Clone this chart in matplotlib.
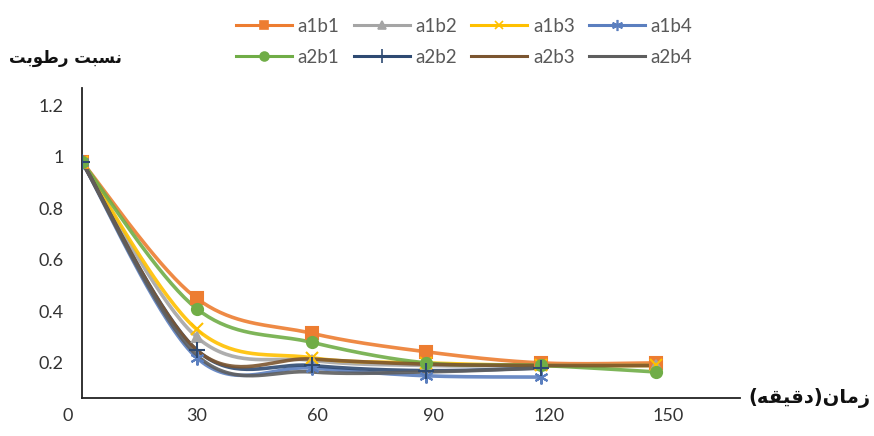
import numpy as np
import matplotlib
matplotlib.use("Agg")
import matplotlib.pyplot as plt
from matplotlib.transforms import ScaledTranslation

# ---------------- data ----------------
time_min = [0, 30, 60, 90, 120, 150]
series_names = ["a1b1", "a1b2", "a1b3", "a1b4", "a2b1", "a2b2", "a2b3", "a2b4"]
a1b1 = [0.98, 0.45, 0.315, 0.243, 0.20, 0.20]
a1b2 = [0.98, 0.30, 0.21, 0.19, 0.19, 0.19]
a1b3 = [0.98, 0.33, 0.22, 0.20, 0.19, 0.19]
a1b4 = [0.98, 0.22, 0.18, 0.15, 0.145]
a2b1 = [0.98, 0.41, 0.28, 0.20, 0.19, 0.165]
a2b2 = [0.98, 0.25, 0.19, 0.17, 0.18]
a2b3 = [0.98, 0.25, 0.215, 0.195, 0.19, 0.19]
a2b4 = [0.98, 0.23, 0.165, 0.165, 0.18]
x_tick_labels = ["0", "30", "60", "90", "120", "150"]
y_ticks = [0.2, 0.4, 0.6, 0.8, 1.0, 1.2]
y_tick_labels = ["0.2", "0.4", "0.6", "0.8", "1", "1.2"]

# Persian titles (Arabic presentation forms, in visual order)
y_title = "\uFE96\uFE91\uFEEE\uFEC3\uFEAD \uFE96\uFE92\uFEB4\uFEE7"          # نسبت رطوبت
x_title = "(\uFEEA\uFED8\uFEF4\uFED7\uFEA9)\uFEE5\uFE8E\uFEE3\uFEAF"        # زمان(دقیقه)

# ---------------- style ----------------
styles = {
    "a1b1": dict(color="#ED7D31", marker="s", ms=8),
    "a1b2": dict(color="#A5A5A5", marker="^", ms=7),
    "a1b3": dict(color="#FFC000", marker="x", ms=8),
    "a1b4": dict(color="#5B7FBF", marker=(6, 2, 0), ms=10),
    "a2b1": dict(color="#70AD47", marker="o", ms=8),
    "a2b2": dict(color="#2E4A72", marker="+", ms=12),
    "a2b3": dict(color="#7B5530", marker="None", ms=0),
    "a2b4": dict(color="#5E5E5E", marker="None", ms=0),
}
tick_label_shift_px = [-14, 0, 6, 7, 8, 12]   # label placement tweak (layout only)


def smooth(xs, ys, n=40):
    """Excel-like smoothed line (Catmull-Rom Bezier through the points)."""
    P = np.column_stack([xs, ys]).astype(float)
    out = [P[0]]
    k = len(P)
    for i in range(k - 1):
        p0 = P[i - 1] if i > 0 else P[i]
        p1, p2 = P[i], P[i + 1]
        p3 = P[i + 2] if i + 2 < k else P[i + 1]
        c1 = p1 + (p2 - p0) / 6.0
        c2 = p2 - (p3 - p1) / 6.0
        t = np.linspace(0, 1, n)[1:, None]
        seg = ((1 - t) ** 3) * p1 + 3 * ((1 - t) ** 2) * t * c1 + 3 * (1 - t) * t ** 2 * c2 + t ** 3 * p2
        out.extend(seg)
    out = np.array(out)
    return out[:, 0], out[:, 1]


data = {"a1b1": a1b1, "a1b2": a1b2, "a1b3": a1b3, "a1b4": a1b4,
        "a2b1": a2b1, "a2b2": a2b2, "a2b3": a2b3, "a2b4": a2b4}

fig = plt.figure(figsize=(8.74, 4.36), dpi=100)
ax = fig.add_axes([0.0938, 0.0872, 0.7529, 0.7110])

handles = {}
for name in series_names:
    ys = data[name]
    xs = time_min[:len(ys)]
    st = styles[name]
    sx, sy = smooth(xs, ys)
    ax.plot(sx, sy, color=st["color"], lw=2.6, alpha=0.9, solid_capstyle="round", zorder=2)
    if st["marker"] != "None":
        ax.plot(xs, ys, ls="none", marker=st["marker"], ms=st["ms"], color=st["color"],
                mec=st["color"], mew=1.5, zorder=3)
    h, = ax.plot([], [], color=st["color"], lw=2.2, marker=st["marker"],
                 ms=st["ms"] * 0.8, mec=st["color"], mew=1.2)
    handles[name] = h

ax.set_yticks(y_ticks)
ax.set_yticklabels(y_tick_labels)
ax.set_xticks([])
ax.set_xlim(0, 172)
ax.set_ylim(0.064, 1.266)
ax.tick_params(axis="both", length=0, labelsize=13, labelcolor="#333333")
ax.tick_params(axis="y", pad=13)
for lab in ax.get_yticklabels():
    lab.set_fontfamily("Lato")

# x tick labels as text under the axis
for val, lab, dx in zip(time_min, x_tick_labels, tick_label_shift_px):
    tr = ax.get_xaxis_transform() + ScaledTranslation(dx / 100.0, -18 / 100.0, fig.dpi_scale_trans)
    ax.text(val, 0, lab, transform=tr, ha="center", va="center", fontsize=13,
            family="Lato", color="#333333", clip_on=False)

for s in ["top", "right"]:
    ax.spines[s].set_visible(False)
for s in ["left", "bottom"]:
    ax.spines[s].set_color("#222222")
    ax.spines[s].set_linewidth(1.3)

# legend filled row by row (matplotlib fills columns first)
order = ["a1b1", "a2b1", "a1b2", "a2b2", "a1b3", "a2b3", "a1b4", "a2b4"]
leg = fig.legend([handles[n] for n in order], order, loc="center",
                 bbox_to_anchor=(0.531, 0.904), ncol=4, frameon=False,
                 handlelength=3.0, columnspacing=0.75, handletextpad=0.3,
                 labelspacing=0.75, prop={"family": "Lato", "size": 13.5})
for t in leg.get_texts():
    t.set_color("#595959")

fig.text(0.075, 0.867, y_title, ha="center", va="center", fontsize=12,
         fontweight="bold", family="DejaVu Sans", color="#111111")
fig.text(0.856, 0.0872, x_title, ha="left", va="center", fontsize=14,
         fontweight="bold", family="DejaVu Sans", color="#111111")

fig.savefig("out.png", dpi=100, facecolor="white")
